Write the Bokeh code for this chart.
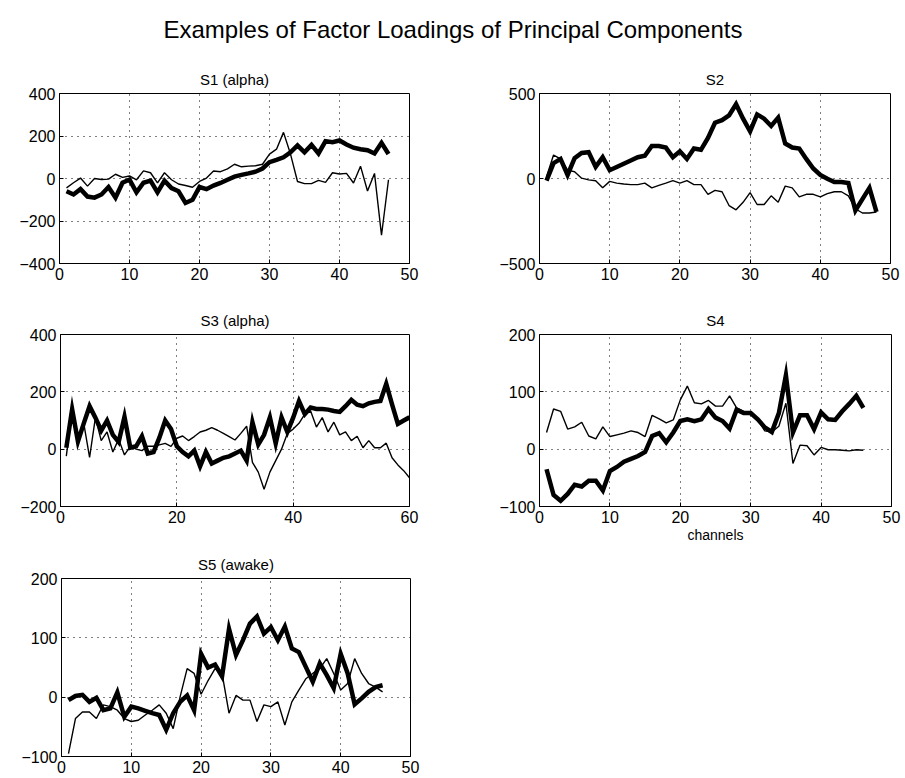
from bokeh.plotting import figure
from bokeh.layouts import column, row
from bokeh.models import Range1d, FixedTicker, CustomJSTickFormatter, Spacer
from bokeh.core.properties import value
from bokeh.embed import file_html
from bokeh.resources import INLINE

FONT = "Liberation Sans"

# ---------------- data ----------------
s1_thick = [-60, -75, -50, -85, -90, -75, -40, -90, -20, -5, -65, -20, -10, -65, -10, -45, -60, -115, -100, -40,
            -50, -33, -21, -6, 9, 17, 24, 32, 47, 77, 88, 100, 123, 156, 123, 158, 118, 176, 171, 179,
            160, 145, 138, 133, 118, 168, 115]
s1_thin = [-44, -20, 2, -36, 0, -5, -3, 20, 5, 12, -6, 36, 27, -21, 27, -6, -26, -33, -41, -14,
           2, 35, 32, 45, 67, 55, 58, 60, 67, 115, 138, 217, 115, -14, -24, -24, -9, -18, 27, 21,
           24, -21, 58, -59, 24, -267, -6]

s2_thick = [-13, 90, 115, 21, 120, 150, 155, 68, 125, 49, 68, 87, 106, 125, 134, 191, 191, 182, 125, 160,
            115, 176, 169, 239, 328, 343, 371, 437, 352, 277, 377, 352, 309, 358, 206, 182, 176, 115, 59, 21,
            -2, -21, -21, -27, -188, -121, -55, -197]
s2_thin = [11, 138, 115, 49, 40, 2, -8, -13, -55, -17, -27, -32, -36, -36, -27, -55, -40, -27, -13, -27,
           -13, -36, -36, -93, -70, -78, -159, -184, -140, -83, -153, -153, -102, -140, -45, -55, -108, -93, -93, -108,
           -89, -78, -78, -102, -178, -203, -203, -197]

s3_thick = [5, 139, 27, 90, 150, 110, 65, 100, 50, 25, 113, 5, 10, 45, -15, -10, 40, 100, 70, 10,
            -10, -25, -5, -60, -10, -50, -40, -30, -25, -15, -5, -40, 94, 16, 50, 111, 20, 111, 60, 110,
            168, 122, 145, 140, 140, 138, 133, 130, 150, 172, 155, 150, 160, 165, 168, 228, 156, 88, 100, 111]
s3_thin = [-24, 135, 40, 90, -29, 110, 30, 60, -10, 35, -20, 10, 0, -5, 10, 10, 15, 20, 10, 38,
           46, 30, 44, 60, 66, 75, 66, 55, 44, 32, 55, 80, -46, -80, -140, -80, -40, 0, 55, 70,
           90, 122, 133, 77, 110, 60, 94, 50, 60, 30, 45, 5, 30, 5, 5, 21, -30, -55, -75, -100]

s4_thick = [-35, -80, -90, -78, -62, -65, -55, -55, -72, -38, -31, -22, -17, -12, -5, 23, 28, 12, 29, 49,
            52, 49, 52, 70, 55, 49, 36, 69, 63, 63, 52, 38, 30, 63, 129, 29, 59, 59, 35, 64,
            52, 51, 66, 79, 93, 72]
s4_thin = [29, 70, 66, 35, 39, 47, 23, 18, 39, 22, 25, 28, 32, 29, 22, 59, 53, 46, 51, 86,
           110, 81, 79, 85, 75, 75, 93, 72, 66, 60, 52, 32, 30, 40, 80, -25, 7, 6, -10, 3,
           -1, -1, -2, -3, -1, -2]

s5_thick = [-5, 2, 4, -8, -1, -22, -19, 8, -33, -16, -19, -23, -27, -30, -55, -27, -8, 3, -22, 73,
            50, 55, 35, 115, 71, 96, 124, 136, 107, 118, 96, 119, 82, 76, 51, 26, 57, 37, 15, 73,
            40, -12, -2, 9, 17, 20]
s5_thin = [-95, -36, -25, -25, -36, -13, -16, -22, -36, -41, -39, -30, -22, -13, -27, -53, 1, 48, 40, 5,
           28, 48, 40, -27, 3, -5, -5, -41, -13, -16, -8, -47, -8, 12, 31, 40, 48, 65, 40, 12,
           23, 65, 40, 23, 17, 9]

titles = ["S1 (alpha)", "S2", "S3 (alpha)", "S4", "S5 (awake)"]
x_ticks = [[0, 10, 20, 30, 40, 50], [0, 10, 20, 30, 40, 50], [0, 20, 40, 60],
           [0, 10, 20, 30, 40, 50], [0, 10, 20, 30, 40, 50]]
y_ticks = [[-400, -200, 0, 200, 400], [-500, 0, 500], [-200, 0, 200, 400],
           [-100, 0, 100, 200], [-100, 0, 100, 200]]
main_title = "Examples of Factor Loadings of Principal Components"

fmt_code = "return (tick < 0 ? '\\u2212' : '') + Math.abs(tick).toString();"


def make_fig(w, h, bl, br, bt, bb, xt, yt, title, thin, thick, xlabel=None):
    p = figure(width=w, height=h, toolbar_location=None, output_backend="svg",
               x_range=Range1d(xt[0], xt[-1]), y_range=Range1d(yt[0], yt[-1]),
               min_border_left=bl, min_border_right=br, min_border_top=bt, min_border_bottom=bb,
               title=title)
    p.title.align = "center"
    p.title.text_font = FONT
    p.title.text_font_size = "15px"
    p.title.text_font_style = "normal"
    p.title.text_color = "black"
    p.title.standoff = 12
    p.background_fill_color = "white"
    p.border_fill_color = "white"
    p.outline_line_color = "black"
    p.outline_line_width = 1
    p.outline_line_alpha = 1
    p.xaxis.ticker = FixedTicker(ticks=xt)
    p.yaxis.ticker = FixedTicker(ticks=yt)
    for ax in (p.xaxis, p.yaxis):
        ax.formatter = CustomJSTickFormatter(code=fmt_code)
        ax.major_label_text_font = FONT
        ax.major_label_text_font_size = "16px"
        ax.major_label_text_color = "black"
        ax.axis_line_color = "black"
        ax.major_tick_line_color = "black"
        ax.major_tick_in = 4
        ax.major_tick_out = 0
        ax.minor_tick_line_color = None
        ax.major_label_standoff = 4
    if xlabel:
        p.xaxis.axis_label = xlabel
        p.xaxis.axis_label_text_font = FONT
        p.xaxis.axis_label_text_font_size = "14px"
        p.xaxis.axis_label_text_font_style = "normal"
        p.xaxis.axis_label_text_color = "black"
        p.xaxis.axis_label_standoff = 1
    p.grid.grid_line_color = "black"
    p.grid.grid_line_dash = "1 5"
    p.grid.grid_line_width = 1
    p.grid.grid_line_alpha = 1
    xs_thin = list(range(1, len(thin) + 1))
    xs_thick = list(range(1, len(thick) + 1))
    p.line(xs_thin, thin, line_color="black", line_width=1.4)
    p.line(xs_thick, thick, line_color="black", line_width=4.5, line_join="miter")
    return p


# title strip
pt = figure(width=905, height=50, toolbar_location=None, output_backend="svg",
            x_range=Range1d(0, 1), y_range=Range1d(0, 1),
            x_axis_location=None, y_axis_location=None, min_border=0)
pt.grid.visible = False
pt.outline_line_color = None
pt.text(x=[0.5], y=[0.42], text=[main_title], text_align="center", text_baseline="middle",
        text_font=value(FONT), text_font_size="24px", text_color="black")

f1 = make_fig(470, 250, 59, 61, 43, 30, x_ticks[0], y_ticks[0], titles[0], s1_thin, s1_thick)
f2 = make_fig(435, 250, 69, 15, 38, 37, x_ticks[1], y_ticks[1], titles[1], s2_thin, s2_thick)
f3 = make_fig(470, 245, 60, 61, 34, 33, x_ticks[2], y_ticks[2], titles[2], s3_thin, s3_thick)
f4 = make_fig(435, 245, 69, 14, 30, 39, x_ticks[3], y_ticks[3], titles[3], s4_thin, s4_thick, xlabel="channels")
f5 = make_fig(470, 233, 61, 60, 33, 22, x_ticks[4], y_ticks[4], titles[4], s5_thin, s5_thick)

layout = column(pt, row(f1, f2), row(f3, f4), row(f5, Spacer(width=435, height=233)))

open("out.html", "w").write(file_html(layout, INLINE))
